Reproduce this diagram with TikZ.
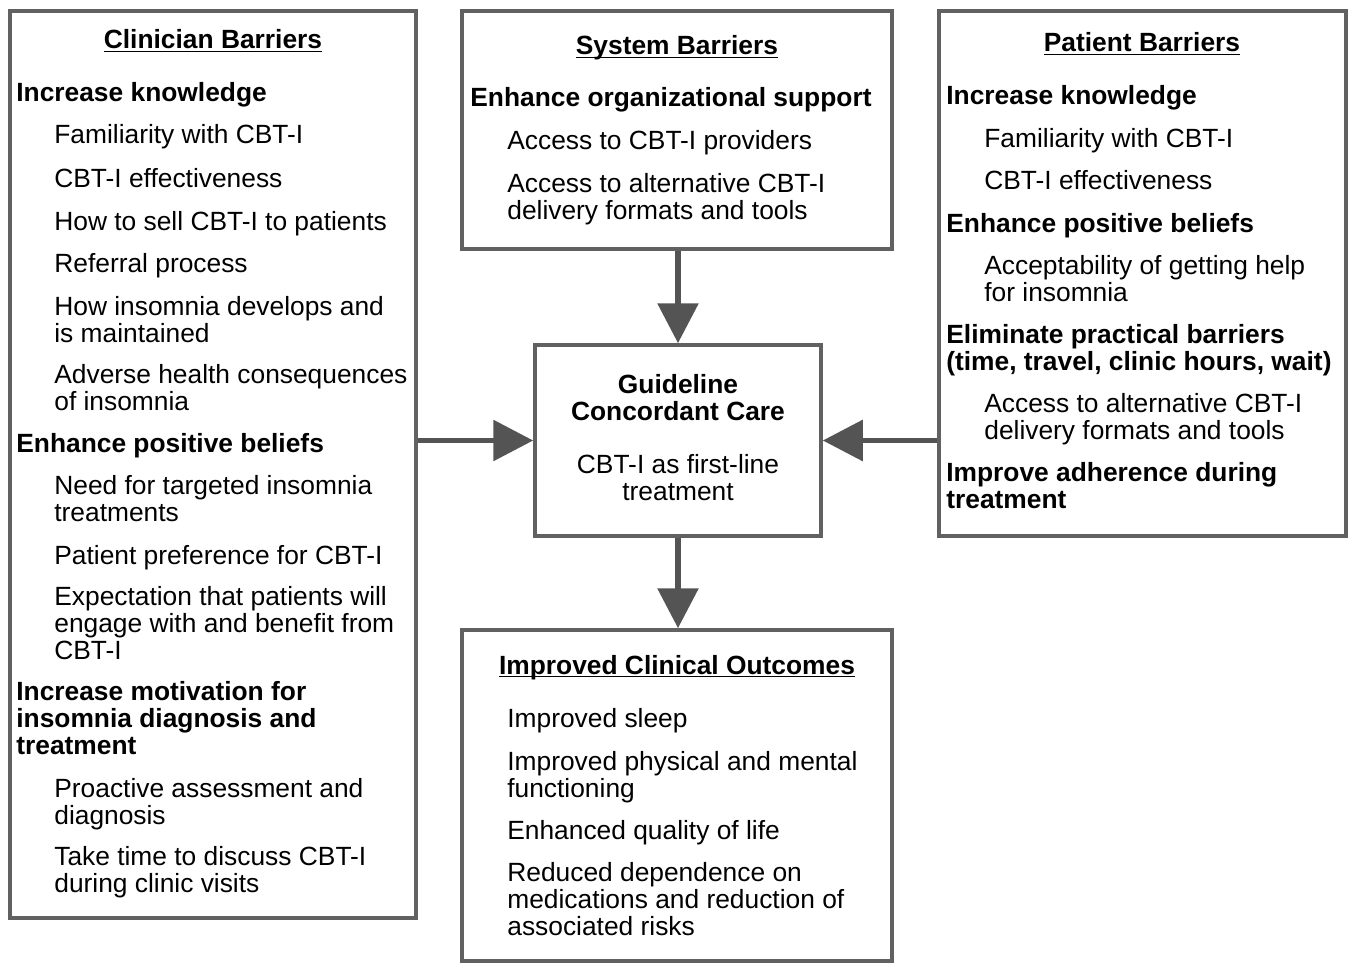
\documentclass[tikz,border=0pt]{standalone}
\usepackage{fontspec}
\setmainfont{Liberation Sans}
\usepackage{tikz}
\usetikzlibrary{fit,arrows.meta}
\newcommand\ultitle[1]{\underline{\smash{#1}}}

\begin{document}
\begin{tikzpicture}[x=0.02cm,y=-0.02cm]
            \tikzstyle{every node}=[font=\fontsize{15}{15.2}\selectfont]
            \tikzstyle{panel}=[draw=black!62, line width=2pt, inner sep=0pt]
            \tikzstyle{item}=[anchor=base west, inner sep=0pt, align=left]
            \tikzstyle{head}=[item, font=\fontsize{15}{15.2}\selectfont\bfseries]
            \tikzstyle{title}=[anchor=base, inner sep=0pt, font=\fontsize{15}{15.2}\selectfont\bfseries]
            \tikzstyle{flow}=[draw=black!67, line width=3.4pt, -{Triangle[length=0.8cm, width=0.8cm]}]
            \useasboundingbox (0,0) rectangle (1349,963);
            % boxes
            \node[panel, fit={(10,11) (416,918)}] (C) {};
            \node[panel, fit={(462,11) (892,249)}] (S) {};
            \node[panel, fit={(939,11) (1346,536)}] (P) {};
            \node[panel, fit={(535,345) (821,536)}] (G) {};
            \node[panel, fit={(462,630) (892,961)}] (O) {};
            % clinician barriers (multi-line nodes sit on their last line)
            \node[title] (Ct) at (213,49) {\ultitle{Clinician Barriers}};
            \node[head] (C1) at (16,102) {Increase knowledge};
            \node[item] (C1a) at (54,144) {Familiarity with CBT-I};
            \node[item] (C1b) at (54,187) {CBT-I effectiveness};
            \node[item] (C1c) at (54,230) {How to sell CBT-I to patients};
            \node[item] (C1d) at (54,272) {Referral process};
            \node[item] (C1e) at (54,342) {How insomnia develops and\\is maintained};
            \node[item] (C1f) at (54,410) {Adverse health consequences\\of insomnia};
            \node[head] (C2) at (16,452) {Enhance positive beliefs};
            \node[item] (C2a) at (54,521) {Need for targeted insomnia\\treatments};
            \node[item] (C2b) at (54,564) {Patient preference for CBT-I};
            \node[item] (C2c) at (54,659) {Expectation that patients will\\engage with and benefit from\\CBT-I};
            \node[head] (C3) at (16,754) {Increase motivation for\\insomnia diagnosis and\\treatment};
            \node[item] (C3a) at (54,824) {Proactive assessment and\\diagnosis};
            \node[item] (C3b) at (54,892) {Take time to discuss CBT-I\\during clinic visits};
            % system barriers
            \node[title] (St) at (677,55) {\ultitle{System Barriers}};
            \node[head] (S1) at (470,107) {Enhance organizational support};
            \node[item] (S1a) at (507,150) {Access to CBT-I providers};
            \node[item] (S1b) at (507,219) {Access to alternative CBT-I\\delivery formats and tools};
            % patient barriers
            \node[title] (Pt) at (1142,52) {\ultitle{Patient Barriers}};
            \node[head] (P1) at (946,105) {Increase knowledge};
            \node[item] (P1a) at (984,148) {Familiarity with CBT-I};
            \node[item] (P1b) at (984,190) {CBT-I effectiveness};
            \node[head] (P2) at (946,232) {Enhance positive beliefs};
            \node[item] (P2a) at (984,301) {Acceptability of getting help\\for insomnia};
            \node[head] (P3) at (946,370) {Eliminate practical barriers\\(time, travel, clinic hours, wait)};
            \node[item] (P3a) at (984,439) {Access to alternative CBT-I\\delivery formats and tools};
            \node[head] (P4) at (946,508) {Improve adherence during\\treatment};
            % guideline concordant care
            \node[title, align=center] (Gt) at (678,420) {Guideline\\Concordant Care};
            \node[anchor=base, inner sep=0pt, align=center] (Ga) at (678,500) {CBT-I as first-line\\treatment};
            % outcomes
            \node[title] (Ot) at (677,674) {\ultitle{Improved Clinical Outcomes}};
            \node[item] (O1) at (507,727) {Improved sleep};
            \node[item] (O2) at (507,797) {Improved physical and mental\\functioning};
            \node[item] (O3) at (507,839) {Enhanced quality of life};
            \node[item] (O4) at (507,935) {Reduced dependence on\\medications and reduction of\\associated risks};
            % arrows
            \path (S.south -| G.north) edge [flow] (G.north);
            \path (G.south) edge [flow] (G.south |- O.north);
            \path (C.east |- G.west) edge [flow] (G.west);
            \path (P.west |- G.east) edge [flow] (G.east);
        \end{tikzpicture}
\end{document}
